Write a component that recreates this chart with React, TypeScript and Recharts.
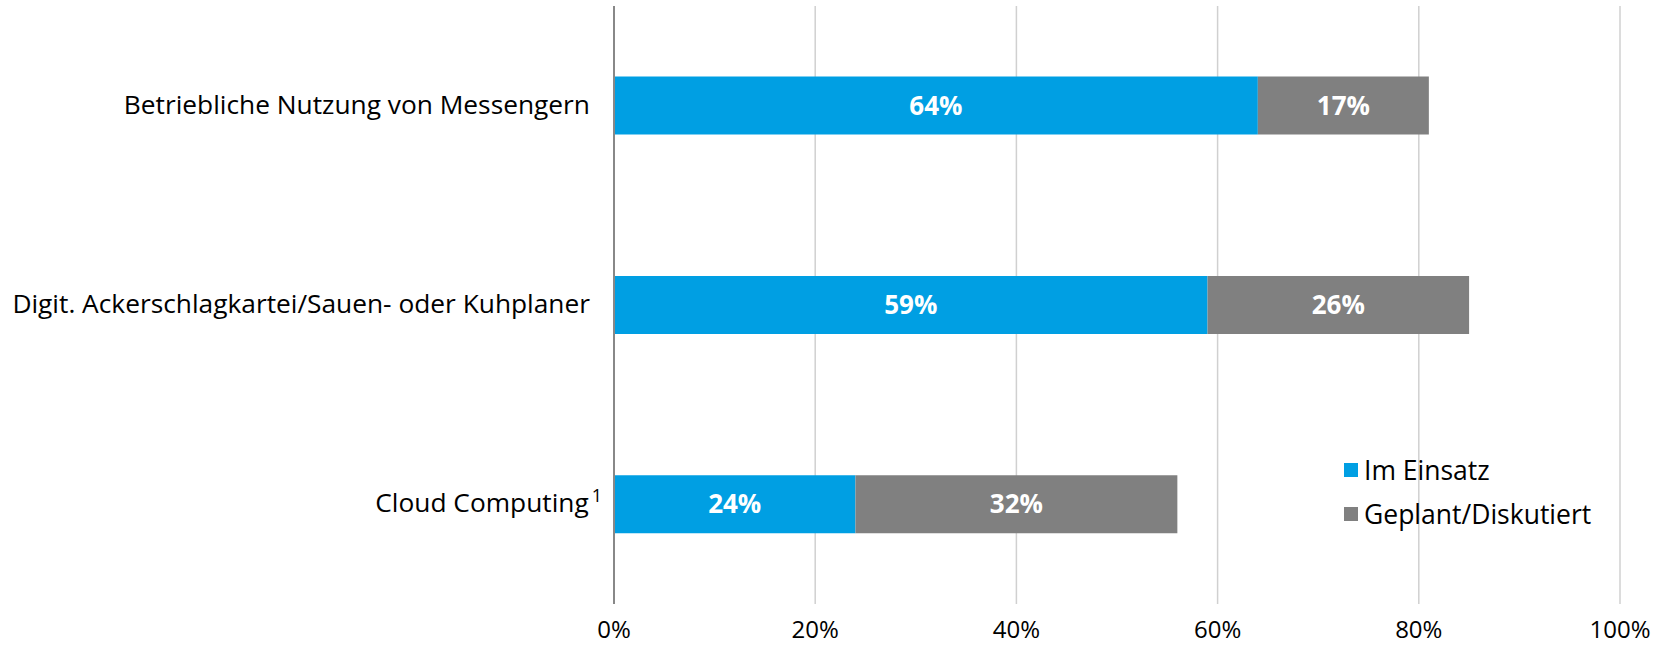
import { BarChart, Bar, XAxis, YAxis, CartesianGrid, LabelList } from 'recharts';

const categories = [
  'Betriebliche Nutzung von Messengern',
  'Digit. Ackerschlagkartei/Sauen- oder Kuhplaner',
  'Cloud Computing¹',
];
const imEinsatz = [64, 59, 24];
const geplant = [17, 26, 32];
const xTicks = [0, 20, 40, 60, 80, 100];

const data = categories.map((name, i) => ({ name, einsatz: imEinsatz[i], geplant: geplant[i] }));

const FONT = '"Open Sans", Lato, sans-serif';

function CategoryTick({ x, y, payload }: any) {
  const label: string = payload.value;
  const sup = label.endsWith('¹');
  const main = sup ? label.slice(0, -1) : label;
  return (
    <text x={sup ? x + 12 : x} y={y} dy={8} textAnchor="end" fill="#000" fontSize={26.3} fontFamily={FONT}>
      {main}
      {sup && <tspan dx={3} dy={-10} fontSize={18}>1</tspan>}
    </text>
  );
}

function LegendBox() {
  const items = [
    { label: 'Im Einsatz', color: '#009FE3' },
    { label: 'Geplant/Diskutiert', color: '#808080' },
  ];
  return (
    <div style={{ position: 'absolute', left: 1344, top: 448, fontFamily: FONT, fontSize: 26.5, color: '#000' }}>
      {items.map((it) => (
        <div key={it.label} style={{ display: 'flex', alignItems: 'center', height: 44 }}>
          <span style={{ width: 14, height: 14, background: it.color, marginRight: 6, display: 'inline-block' }} />
          {it.label}
        </div>
      ))}
    </div>
  );
}

export default function App() {
  return (
    <div style={{ position: 'absolute', left: 0, top: 0, width: 1662, height: 647, background: '#fff' }}>
      <BarChart
        width={1662}
        height={647}
        data={data}
        layout="vertical"
        margin={{ top: 6, right: 42, bottom: 0, left: 0 }}
        barCategoryGap="35.4%"
      >
        <CartesianGrid horizontal={false} stroke="#d0d0d0" strokeWidth={1.5} />
        <XAxis
          type="number"
          domain={[0, 100]}
          ticks={xTicks}
          tickFormatter={(v: number) => `${v}%`}
          axisLine={false}
          tickLine={false}
          height={43}
          tick={{ fill: '#000', fontSize: 24, fontFamily: FONT }}
          tickMargin={11}
        />
        <YAxis
          type="category"
          dataKey="name"
          width={614}
          axisLine={{ stroke: '#888', strokeWidth: 2 }}
          tickLine={false}
          tick={<CategoryTick />}
          tickMargin={18}
        />
        <Bar dataKey="einsatz" stackId="a" fill="#009FE3" isAnimationActive={false}>
          <LabelList dataKey="einsatz" position="center" formatter={(v: any) => `${v}%`} fill="#fff" fontSize={26} fontWeight="bold" fontFamily={FONT} />
        </Bar>
        <Bar dataKey="geplant" stackId="a" fill="#808080" isAnimationActive={false}>
          <LabelList dataKey="geplant" position="center" formatter={(v: any) => `${v}%`} fill="#fff" fontSize={26} fontWeight="bold" fontFamily={FONT} />
        </Bar>
      </BarChart>
      <LegendBox />
    </div>
  );
}
